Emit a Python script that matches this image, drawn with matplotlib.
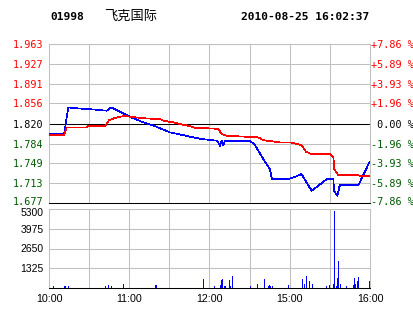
import numpy as np
import matplotlib.pyplot as plt
from matplotlib.transforms import ScaledTranslation

code = '01998'
name = '飞克国际'
stamp = '2010-08-25 16:02:37'
prev_close = 1.820

# trading minutes since 10:00 (lunch break 12:30-14:30 left out)
t_price = [0, 11.2, 12.0, 14.4, 21.9, 29.4, 43.1, 46.4, 60.6, 70.5, 80.5, 90.5, 100.4,
           107.9, 114.2, 125.8, 127.9, 129.1, 130.3, 131.6, 150.3, 154.0, 157.8, 161.5,
           164.0, 165.2, 166.7, 178.9, 183.9, 188.9, 190.1, 196.4, 205.1, 207.6, 212.6,
           213.1, 215.6, 217.1, 217.6, 231.3, 239.5]
price = [1.801, 1.801, 1.811, 1.849, 1.847, 1.846, 1.843, 1.849, 1.832, 1.822, 1.814,
         1.804, 1.799, 1.795, 1.792, 1.789, 1.780, 1.789, 1.781, 1.789, 1.789, 1.781,
         1.766, 1.751, 1.742, 1.738, 1.720, 1.720, 1.724, 1.729, 1.724, 1.699, 1.715,
         1.720, 1.720, 1.699, 1.690, 1.706, 1.709, 1.709, 1.750]

t_avg = [0, 11.4, 13.2, 28.2, 28.8, 42.2, 44.9, 49.3, 56.8, 60.6, 73.0, 83.0, 85.5,
         92.9, 97.9, 104.1, 109.2, 122.8, 126.6, 129.1, 132.9, 156.5, 160.2, 172.7,
         180.2, 183.9, 188.9, 192.2, 196.4, 210.1, 212.6, 213.3, 216.3, 231.3, 232.5, 239.5]
avg_price = [1.799, 1.799, 1.813, 1.813, 1.816, 1.816, 1.826, 1.830, 1.834, 1.832, 1.829,
             1.828, 1.825, 1.822, 1.819, 1.816, 1.812, 1.811, 1.810, 1.801, 1.798, 1.795,
             1.790, 1.786, 1.786, 1.784, 1.781, 1.769, 1.765, 1.765, 1.760, 1.738, 1.727,
             1.727, 1.726, 1.726]

t_vol = [3.2, 11.4, 12.5, 14.4, 42.1, 44.3, 46.4, 55.6, 80.0, 115.4, 123.6, 127.9, 128.6,
         129.6, 131.1, 132.1, 134.8, 135.9, 137.0, 150.5, 155.7, 161.0, 164.0, 164.7,
         165.5, 167.0, 178.9, 189.4, 190.9, 192.4, 194.6, 196.9, 207.6, 209.6, 212.6,
         213.3, 214.6, 215.6, 216.6, 217.6, 218.3, 222.6, 227.5, 228.6, 229.5, 230.3,
         231.3, 239.5]
volume = [150, 150, 150, 150, 150, 220, 150, 290, 220, 620, 150, 220, 560, 620, 150, 150,
          560, 150, 820, 150, 290, 620, 150, 220, 150, 150, 220, 620, 290, 820, 450, 290,
          150, 220, 290, 5190, 150, 670, 1790, 290, 290, 150, 220, 670, 290, 490, 760, 450]

price_ticks = [1.677, 1.713, 1.749, 1.784, 1.820, 1.856, 1.891, 1.927, 1.963]
pct_labels = ['-7.86 %', '-5.89 %', '-3.93 %', '-1.96 %', ' 0.00 %',
              '+1.96 %', '+3.93 %', '+5.89 %', '+7.86 %']
vol_ticks = [1325, 2650, 3975, 5300]
time_ticks = [0, 60, 120, 180, 240]
time_labels = ['10:00', '11:00', '12:00', '15:00', '16:00']

grid_c = '#c0c0c0'
green = '#005a00'
glw = 0.75  # roughly one pixel

def tick_color(v):
    if v > prev_close + 1e-9:
        return '#ff0000'
    if v < prev_close - 1e-9:
        return green
    return 'black'

fig = plt.figure(figsize=(4.14, 3.14), dpi=100)
W, H = 414.0, 314.0
ax = fig.add_axes([49 / W, 1 - 203 / H, 321 / W, 159 / H])
axv = fig.add_axes([49 / W, 1 - 288 / H, 321 / W, 79 / H])
up = ScaledTranslation(0, 2 / 100, fig.dpi_scale_trans)
down = ScaledTranslation(0, -3 / 100, fig.dpi_scale_trans)

# price panel
for v in price_ticks[1:]:
    if v == prev_close:
        continue
    ax.axhline(v, color=grid_c, lw=glw, zorder=0)
for x in range(30, 240, 30):
    ax.axvline(x, color=grid_c, lw=glw, zorder=0)
ax.axhline(prev_close, color='black', lw=glw, zorder=1)
ax.plot(t_price, price, color='#0000ff', lw=0.5, antialiased=False, zorder=3)
ax.plot(t_avg, avg_price, color='#ff0000', lw=0.5, antialiased=False, zorder=4)
ax.set_xlim(0, 240)
ax.set_ylim(price_ticks[0], price_ticks[-1])
ax.set_xticks([])
ax.set_yticks(price_ticks)
ax.set_yticklabels(['%.3f' % v for v in price_ticks], family='DejaVu Sans Mono', fontsize=7.3)
for lbl, v in zip(ax.get_yticklabels(), price_ticks):
    lbl.set_color(tick_color(v))
ax.tick_params(axis='y', length=0, pad=4)
for s in ('top', 'left', 'right'):
    ax.spines[s].set_color(grid_c)
    ax.spines[s].set_linewidth(glw)
ax.spines['bottom'].set_color('black')
ax.spines['bottom'].set_linewidth(glw)

ax2 = ax.twinx()
ax2.set_ylim(price_ticks[0], price_ticks[-1])
ax2.set_yticks(price_ticks)
ax2.set_yticklabels(pct_labels, family='DejaVu Sans Mono', fontsize=7.3)
for lbl, v in zip(ax2.get_yticklabels(), price_ticks):
    lbl.set_color(tick_color(v))
ax2.tick_params(axis='y', length=0, pad=1)
for s in ax2.spines.values():
    s.set_visible(False)

# volume panel
for v in vol_ticks[:-1]:
    axv.axhline(v, color=grid_c, lw=glw, zorder=0)
for x in range(30, 240, 30):
    axv.axvline(x, color=grid_c, lw=glw, zorder=0)
axv.bar(t_vol, volume, width=0.75, color='#0000ff', lw=0, antialiased=False, zorder=3)
axv.set_xlim(0, 240)
axv.set_ylim(0, 5300)
axv.set_yticks(vol_ticks)
axv.set_yticklabels([str(v) for v in vol_ticks], family='Liberation Sans', fontsize=7.5)
axv.set_xticks(time_ticks)
axv.set_xticklabels(time_labels, family='Liberation Sans', fontsize=7.7)
axv.tick_params(axis='y', length=0, pad=4)
axv.tick_params(axis='x', length=0, pad=4)
for s in ('top', 'left', 'right'):
    axv.spines[s].set_color(grid_c)
    axv.spines[s].set_linewidth(glw)
axv.spines['bottom'].set_color('black')
axv.spines['bottom'].set_linewidth(glw)

# nudge the two labels that meet between the panels
fig.canvas.draw()
for lbl in (ax.get_yticklabels()[0], ax2.get_yticklabels()[0]):
    lbl.set_transform(lbl.get_transform() + up)
top_lbl = axv.get_yticklabels()[-1]
top_lbl.set_transform(top_lbl.get_transform() + down)

# header
fig.text(50 / W, 1 - 17 / H, code, family='DejaVu Sans Mono', weight='bold',
         fontsize=8.1, ha='left', va='center')
fig.text(104 / W, 1 - 16 / H, name, family=['Noto Sans CJK SC', 'DejaVu Sans'],
         fontsize=9.5, ha='left', va='center')
fig.text(369 / W, 1 - 17 / H, stamp, family='DejaVu Sans Mono', weight='bold',
         fontsize=8.1, ha='right', va='center')

fig.savefig('out.png', dpi=100)
